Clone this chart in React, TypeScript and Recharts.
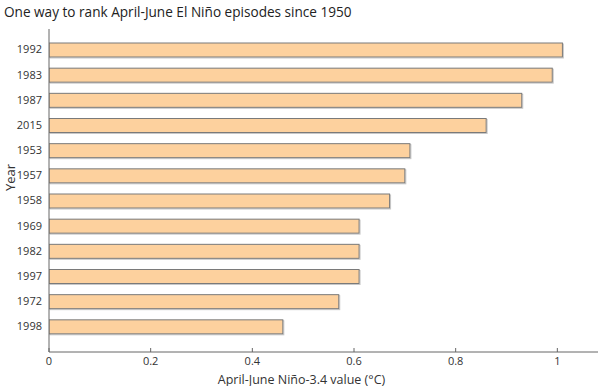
import React from 'react';
import { BarChart, Bar, XAxis, YAxis } from 'recharts';

const years = ['1992', '1983', '1987', '2015', '1953', '1957', '1958', '1969', '1982', '1997', '1972', '1998'];
const values = [1.01, 0.99, 0.93, 0.86, 0.71, 0.7, 0.67, 0.61, 0.61, 0.61, 0.57, 0.46];
const xTicks = [0, 0.2, 0.4, 0.6, 0.8, 1];
const xTickLabels = ['0', '0.2', '0.4', '0.6', '0.8', '1'];

const titleText = 'One way to rank April-June El Niño episodes since 1950';
const xLabel = 'April-June Niño-3.4 value (°C)';
const yLabel = 'Year';

const data = years.map((y, i) => ({ year: y, value: values[i] }));

const FONT = "'Open Sans', sans-serif";

const ShadowBar = (props: any) => {
  const { x, y, width, height } = props;
  if (width == null || height == null) return null;
  return (
    <g>
      <rect x={x + 1} y={y + 1} width={width} height={height} fill="none" stroke="#c8c8c8" strokeWidth={1} />
      <rect x={x} y={y} width={width} height={height} fill="#fdd19e" stroke="#7a7a7a" strokeWidth={1} />
    </g>
  );
};

export default function App() {
  return (
    <div style={{ position: 'absolute', left: 0, top: 0, width: 610, height: 386, background: '#fff', fontFamily: FONT }}>
      <div
        style={{
          position: 'absolute',
          left: 4,
          top: 2,
          fontSize: 13.6,
          color: '#222',
          whiteSpace: 'nowrap',
          fontFamily: FONT,
        }}
      >
        {titleText}
      </div>
      <BarChart
        width={610}
        height={386}
        data={data}
        layout="vertical"
        margin={{ top: 29, right: 12, bottom: 0, left: 4 }}
        barCategoryGap={0}
      >
        <XAxis
          type="number"
          dataKey="value"
          domain={[0, 1.08]}
          ticks={xTicks}
          tickFormatter={(v: number) => xTickLabels[xTicks.indexOf(v)] ?? String(v)}
          height={34}
          tickSize={-4}
          tickMargin={9}
          axisLine={{ stroke: '#666', strokeWidth: 1 }}
          tickLine={{ stroke: '#666' }}
          tick={{ fill: '#333', fontSize: 11, fontFamily: FONT }}
          allowDataOverflow
          label={{ value: xLabel, position: 'insideBottom', offset: 2.5, dx: -22, style: { fill: '#333', fontSize: 12.5, fontFamily: FONT } }}
        />
        <YAxis
          type="category"
          dataKey="year"
          width={45}
          tickLine={false}
          tickSize={6}
          tickMargin={1}
          padding={{ top: 8, bottom: 13 }}
          axisLine={{ stroke: '#666', strokeWidth: 1 }}
          tick={{ fill: '#333', fontSize: 11, fontFamily: FONT }}
          label={{ value: yLabel, angle: -90, position: 'insideLeft', offset: 6, dy: -13, style: { textAnchor: 'middle', fill: '#333', fontSize: 13, fontFamily: FONT } }}
        />
        <Bar dataKey="value" barSize={14} shape={ShadowBar} isAnimationActive={false} />
      </BarChart>
    </div>
  );
}
